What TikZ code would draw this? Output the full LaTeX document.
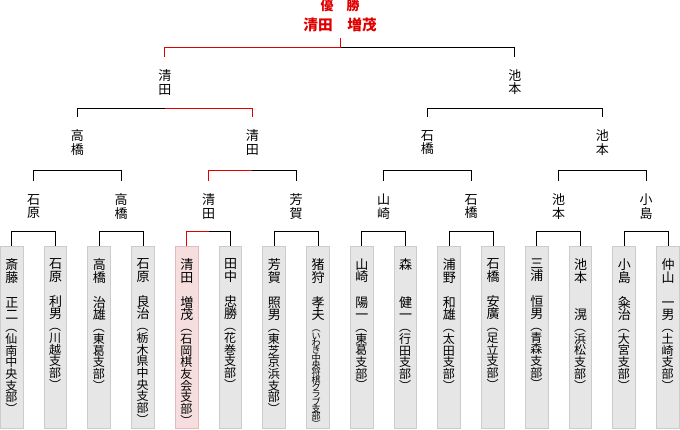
\documentclass[tikz,border=0pt]{standalone}
\usepackage{fontspec}
\setmainfont{Noto Sans CJK JP}
\usetikzlibrary{calc}

\definecolor{winred}{HTML}{E00000}
\definecolor{boxfill}{HTML}{E6E6E6}
\definecolor{boxline}{HTML}{CCCCCC}
\definecolor{winfill}{HTML}{F6DEDE}
\definecolor{winline}{HTML}{E0BCBC}

\makeatletter
\newcommand\tate[1]{\@tfor\tate@c:=#1\do{\hbox to 1em{\hss\tate@c\hss}}}
\makeatother
\newcommand\namefont{\fontsize{9.75pt}{9.4pt}\selectfont}
\newcommand\affilfont{\fontsize{9pt}{8.8pt}\selectfont}
\newcommand\affilgap{0pt}
\newcommand\kanjifont{\fontsize{9.75pt}{10.1pt}\selectfont}
\newcommand\meibo[2]{\vbox to 136.5pt{\kern9.2pt\lineskiplimit=-\maxdimen
  \namefont\tate{#1}\affilfont\vskip\affilgap\tate{#2}\vss}}
\newcommand\kanji[1]{\vbox{\lineskiplimit=-\maxdimen\kanjifont\tate{#1}}}

\begin{document}
\begin{tikzpicture}[x=0.75pt,y=0.75pt,line width=0.75pt,
  entrybox/.style={draw=boxline,fill=boxfill,anchor=north,minimum width=16.9pt,inner sep=0pt},
  winbox/.style={entrybox,draw=winline,fill=winfill},
  player/.style={minimum height=37.5pt,inner sep=0pt},
  win/.style={draw=winred}]
  \useasboundingbox (0,0) rectangle (680,429);

  % champion
  \node[text=winred,font=\fontsize{9.75pt}{10pt}\selectfont\bfseries] (yusho) at (340,423) {優　勝};
  \node[text=winred,font=\fontsize{11pt}{12pt}\selectfont\bfseries,minimum height=19.8pt,inner sep=0pt] (champ) at (340,404.5) {清田　増茂};

  % final
  \node[player] (f1) at (164.875,346.7) {\kanji{清田}};
  \node[player] (f2) at (514.875,346.7) {\kanji{池本}};

  % semifinal
  \node[player] (s1) at (77.375,286.4) {\kanji{高橋}};
  \node[player] (s2) at (252.375,286.4) {\kanji{清田}};
  \node[player] (s3) at (427.375,286.4) {\kanji{石橋}};
  \node[player] (s4) at (602.375,286.4) {\kanji{池本}};

  % quarterfinal
  \node[player] (q1) at (33.625,222.5) {\kanji{石原}};
  \node[player] (q2) at (121.125,222.5) {\kanji{高橋}};
  \node[player] (q3) at (208.625,222.5) {\kanji{清田}};
  \node[player] (q4) at (296.125,222.5) {\kanji{芳賀}};
  \node[player] (q5) at (383.625,222.5) {\kanji{山崎}};
  \node[player] (q6) at (471.125,222.5) {\kanji{石橋}};
  \node[player] (q7) at (558.625,222.5) {\kanji{池本}};
  \node[player] (q8) at (646.125,222.5) {\kanji{小島}};

  % entries
  \node[entrybox] (e1) at (11.75,183) {\meibo{斎藤　正二}{︵仙南中央支部︶}};
  \node[entrybox] (e2) at (55.5,183) {\meibo{石原　利男}{︵川越支部︶}};
  \node[entrybox] (e3) at (99.25,183) {\meibo{高橋　治雄}{︵東葛支部︶}};
  \node[entrybox] (e4) at (143,183) {\meibo{石原　良治}{︵栃木県中央支部︶}};
  \node[winbox] (e5) at (186.75,183) {\meibo{清田　増茂}{︵石岡棋友会支部︶}};
  \node[entrybox] (e6) at (230.5,183) {\meibo{田中　忠勝}{︵花巻支部︶}};
  \node[entrybox] (e7) at (274.25,183) {\meibo{芳賀　照男}{︵東芝京浜支部︶}};
  \node[entrybox] (e8) at (318,183) {\renewcommand\affilfont{\fontsize{6.8pt}{5.5pt}\selectfont}%
    \renewcommand\affilgap{3.5pt}\meibo{猪狩　孝夫}{︵いわき中央将棋クラブ支部︶}};
  \node[entrybox] (e9) at (361.75,183) {\meibo{山崎　陽一}{︵東葛支部︶}};
  \node[entrybox] (e10) at (405.5,183) {\meibo{森　　健一}{︵行田支部︶}};
  \node[entrybox] (e11) at (449.25,183) {\meibo{浦野　和雄}{︵太田支部︶}};
  \node[entrybox] (e12) at (493,183) {\meibo{石橋　安廣}{︵足立支部︶}};
  \node[entrybox] (e13) at (536.75,183) {\meibo{三浦　恒男}{︵青森支部︶}};
  \node[entrybox] (e14) at (580.5,183) {\meibo{池本　　滉}{︵浜松支部︶}};
  \node[entrybox] (e15) at (624.25,183) {\meibo{小島　粂治}{︵大宮支部︶}};
  \node[entrybox] (e16) at (668,183) {\meibo{仲山　一男}{︵土崎支部︶}};

  % brackets
  \draw (e1.north) -- ++(0,14.3) -| (e2.north);
  \draw (e3.north) -- ++(0,14.3) -| (e4.north);
  \draw (e5.north) -- ++(0,14.3) -| (e6.north);
  \draw (e7.north) -- ++(0,14.3) -| (e8.north);
  \draw (e9.north) -- ++(0,14.3) -| (e10.north);
  \draw (e11.north) -- ++(0,14.3) -| (e12.north);
  \draw (e13.north) -- ++(0,14.3) -| (e14.north);
  \draw (e15.north) -- ++(0,14.3) -| (e16.north);
  \draw (q1.north) -- ++(0,10.8) -| (q2.north);
  \draw (q3.north) -- ++(0,10.8) -| (q4.north);
  \draw (q5.north) -- ++(0,10.8) -| (q6.north);
  \draw (q7.north) -- ++(0,10.8) -| (q8.north);
  \draw (s1.north) -- ++(0,9) -| (s2.north);
  \draw (s3.north) -- ++(0,9) -| (s4.north);
  \draw (f1.north) -- ++(0,9.6) -| (f2.north);

  % winner's path
  \draw[win] (e5.north) -- ++(0,14.3) coordinate (w1) -- (w1 -| q3);
  \draw[win] (q3.north) -- ++(0,10.8) coordinate (w2) -- (w2 -| s2);
  \draw[win] (s2.north) -- ++(0,9) coordinate (w3) -- (w3 -| f1);
  \draw[win] (f1.north) -- ++(0,9.6) coordinate (w4) -- (w4 -| champ) -- (champ.south);
\end{tikzpicture}
\end{document}
